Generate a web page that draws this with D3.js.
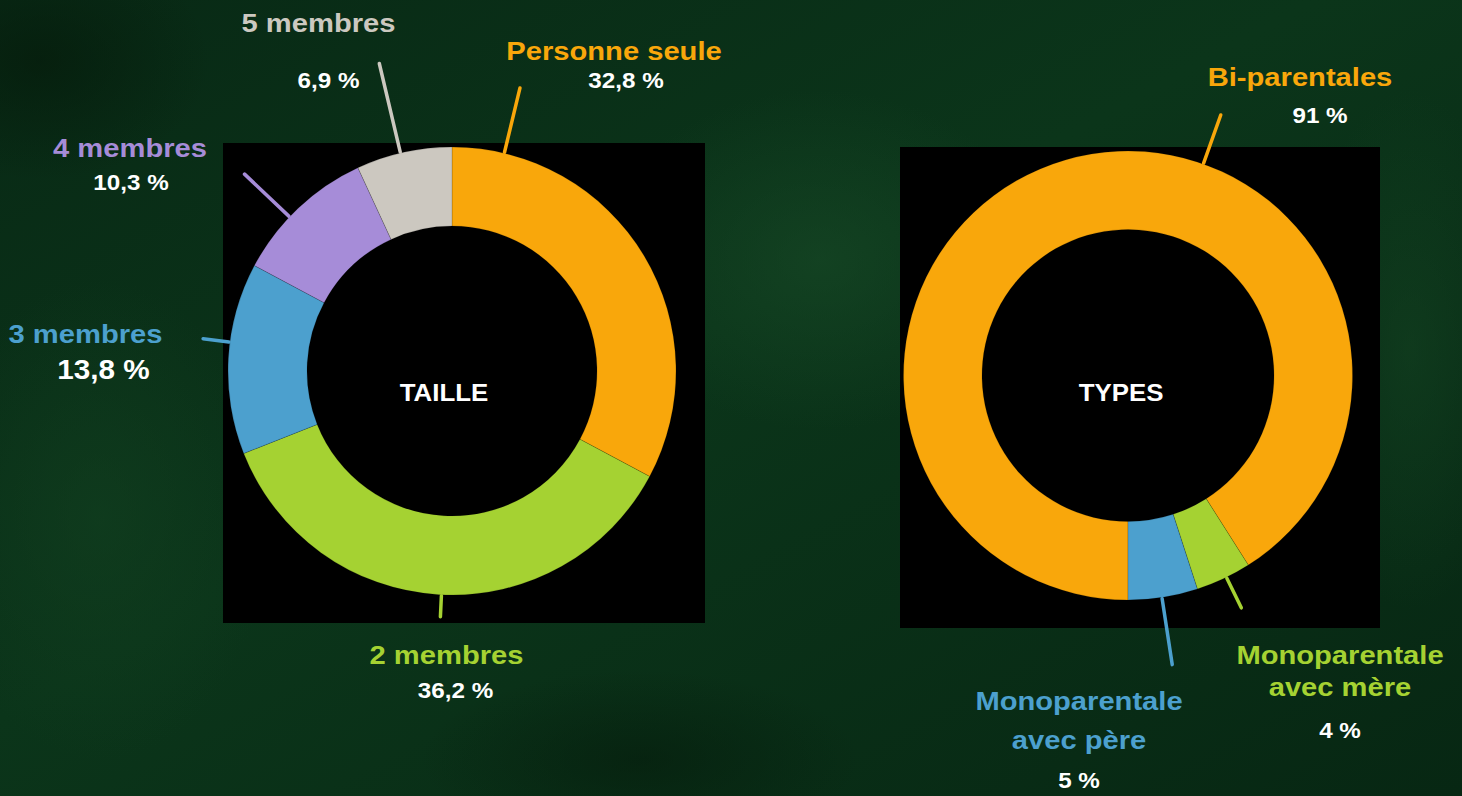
<!DOCTYPE html>
<html>
<head>
<meta charset="utf-8">
<script src="https://cdn.jsdelivr.net/npm/d3@7"></script>
<style>
  html, body { margin: 0; padding: 0; background: #0b3118; overflow: hidden; }
  svg { display: block; }
</style>
</head>
<body>
<svg id="chart" width="1462" height="796"></svg>
<script>
// ---------- DATA ----------
const tailleCategories = ["Personne seule", "2 membres", "3 membres", "4 membres", "5 membres"];
const tailleValues = [32.8, 36.2, 13.8, 10.3, 6.9];
const tailleTitle = "TAILLE";

const typesCategories = ["Bi-parentales", "Monoparentale avec mère", "Monoparentale avec père"];
const typesLabelLines = [["Bi-parentales"], ["Monoparentale", "avec mère"], ["Monoparentale", "avec père"]];
const typesValues = [91, 4, 5];
const typesTitle = "TYPES";

// ---------- STYLE / LAYOUT ----------
const tailleColors = ["#F9A70B", "#A5D232", "#4CA0CE", "#A68CD8", "#CCC8C0"];
const typesColors = ["#F9A70B", "#A5D232", "#4CA0CE"];

// leader lines: angle (deg, clockwise from 12 o'clock), length beyond outer radius
const tailleLeaders = [[13.5, 67], [182.7, 22], [-82.6, 27], [-46.5, 62], [-13.3, 92]];
const typesLeaders = [[19.6, 52], [154, 34], [171.3, 68]];
// label anchor points (name baseline, line gap, pct baseline, pct size)
const tailleLabelPos = [
  {x: 614, y: 60, gap: 32, px: 626, py: 88, ps: 22},
  {x: 446.5, y: 664, gap: 32, px: 455.5, py: 698, ps: 22},
  {x: 85.5, y: 343, gap: 32, px: 103.5, py: 379, ps: 27},
  {x: 130, y: 157, gap: 32, px: 131, py: 190, ps: 22},
  {x: 318.5, y: 32, gap: 32, px: 328.5, py: 88, ps: 22}
];
const typesLabelPos = [
  {x: 1300, y: 86, gap: 32, px: 1320, py: 123, ps: 22},
  {x: 1340, y: 664, gap: 32, px: 1340, py: 738, ps: 22},
  {x: 1079, y: 710, gap: 39, px: 1079, py: 788, ps: 22}
];

const W = 1462, H = 796;
const FONT = "'Liberation Sans', Arial, Helvetica, sans-serif";
const STRETCH = 1.1;
const svg = d3.select("#chart");
const defs = svg.append("defs");

// ---------- BACKGROUND ----------
const bg = defs.append("linearGradient").attr("id", "bgGrad")
  .attr("x1", 0).attr("y1", 0).attr("x2", 1).attr("y2", 1);
bg.append("stop").attr("offset", "0%").attr("stop-color", "#082915");
bg.append("stop").attr("offset", "45%").attr("stop-color", "#0b351a");
bg.append("stop").attr("offset", "100%").attr("stop-color", "#072713");
svg.append("rect").attr("width", W).attr("height", H).attr("fill", "url(#bgGrad)");

const blobs = [
  [820, 260, 220, 170, "#184a27", 0.6],
  [100, 520, 170, 240, "#124020", 0.6],
  [1410, 350, 110, 260, "#14432222".slice(0, 7), 0.55],
  [40, 60, 170, 120, "#051b0b", 0.7],
  [640, 760, 220, 90, "#051c0c", 0.6]
];
blobs.forEach((b, i) => {
  const rg = defs.append("radialGradient").attr("id", "blob" + i);
  rg.append("stop").attr("offset", "0%").attr("stop-color", b[4]).attr("stop-opacity", b[5]);
  rg.append("stop").attr("offset", "100%").attr("stop-color", b[4]).attr("stop-opacity", 0);
});
svg.append("g").selectAll("ellipse").data(blobs).join("ellipse")
  .attr("cx", d => d[0]).attr("cy", d => d[1]).attr("rx", d => d[2]).attr("ry", d => d[3])
  .attr("fill", (d, i) => `url(#blob${i})`);

// ---------- DONUT ----------
const loc = d3.formatLocale({decimal: ",", thousands: " ", grouping: [3], currency: ["", "€"]});
const fmt1 = loc.format(".1f");
const fmt0 = loc.format(".0f");

function stretchedText(g, x, y, text, size, color) {
  g.append("text")
    .attr("transform", `translate(${x},${y}) scale(${STRETCH},1)`)
    .attr("text-anchor", "middle")
    .attr("font-family", FONT).attr("font-weight", "bold")
    .attr("font-size", size).attr("fill", color)
    .text(text);
}

function donut(opts) {
  const g = svg.append("g");
  g.append("rect").attr("x", opts.box[0]).attr("y", opts.box[1])
    .attr("width", opts.box[2]).attr("height", opts.box[3]).attr("fill", "#000");

  const pie = d3.pie().sort(null).value(d => d.v)
    .startAngle(opts.start).endAngle(opts.start + 2 * Math.PI);
  const arc = d3.arc().innerRadius(opts.ri).outerRadius(opts.ro);
  const data = opts.cats.map((c, i) => ({c, v: opts.vals[i], i}));
  const arcs = pie(data);
  const cg = g.append("g").attr("transform", `translate(${opts.cx},${opts.cy})`);
  cg.selectAll("path").data(arcs).join("path")
    .attr("d", arc).attr("fill", d => opts.colors[d.data.i])
    .attr("stroke", "rgba(0,0,0,0.25)").attr("stroke-width", 0.6);

  // leader lines
  cg.selectAll("line").data(arcs).join("line")
    .each(function(d) {
      const [deg, len] = opts.leaders[d.data.i];
      const a = deg * Math.PI / 180;
      const r0 = opts.ro + 1, r1 = opts.ro + len;
      d3.select(this)
        .attr("x1", r0 * Math.sin(a)).attr("y1", -r0 * Math.cos(a))
        .attr("x2", r1 * Math.sin(a)).attr("y2", -r1 * Math.cos(a));
    })
    .attr("stroke", d => opts.colors[d.data.i])
    .attr("stroke-width", 3.5).attr("stroke-linecap", "round");

  // labels
  arcs.forEach(d => {
    const p = opts.pos[d.data.i];
    const lines = opts.lines ? opts.lines[d.data.i] : [d.data.c];
    lines.forEach((t, k) => stretchedText(g, p.x, p.y + k * p.gap, t, 26.5, opts.colors[d.data.i]));
    stretchedText(g, p.px, p.py, opts.fmt(d.data.v) + " %", p.ps, "#fff");
  });

  stretchedText(g, opts.tx, opts.ty, opts.title, 23.5, "#fff");
}

donut({
  box: [223, 143, 482, 480], cx: 452, cy: 371, ri: 145, ro: 224,
  start: 0, cats: tailleCategories, vals: tailleValues, colors: tailleColors,
  leaders: tailleLeaders, pos: tailleLabelPos, fmt: fmt1,
  title: tailleTitle, tx: 444, ty: 401
});

donut({
  box: [900, 147, 480, 481], cx: 1128, cy: 375.5, ri: 146, ro: 224.5,
  start: Math.PI, cats: typesCategories, vals: typesValues, colors: typesColors,
  leaders: typesLeaders, pos: typesLabelPos, fmt: fmt0, lines: typesLabelLines,
  title: typesTitle, tx: 1121, ty: 401
});
</script>
</body>
</html>
